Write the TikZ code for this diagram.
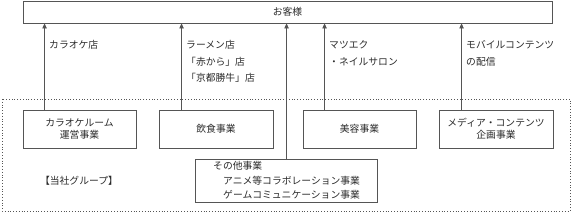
\documentclass[tikz,border=0pt]{standalone}
\usepackage{fontspec}
\newfontfamily\jp{Noto Sans CJK JP}
\usetikzlibrary{arrows.meta}
\definecolor{ln}{HTML}{555555}
\definecolor{tx}{HTML}{2a2a2a}
\tikzset{
  every node/.style={font=\jp\fontsize{9.8}{12}\selectfont, text=tx, inner sep=0pt},
  bx/.style={draw=ln, line width=0.9pt, minimum height=38pt, align=center},
  lbl/.style={anchor=west},
  arr/.style={draw=ln, line width=0.8pt, -{Triangle[length=5pt,width=4.5pt]}},
}
\begin{document}
\begin{tikzpicture}[x=1pt,y=-1pt]
\useasboundingbox (0,0) rectangle (575,213);
\draw[ln, dotted, line width=0.8pt] (2,99) rectangle (570,211);
\node[draw=ln, line width=0.9pt, minimum width=529pt, minimum height=22pt] (top) at (287.5,12) {お客様};
\node[bx, minimum width=113pt] (b1) at (79.5,129) {カラオケルーム\\運営事業};
\node[bx, minimum width=114pt] (b2) at (216,129) {飲食事業};
\node[bx, minimum width=113pt] (b3) at (359.5,129) {美容事業};
\node[bx, minimum width=114pt] (b4) at (496,129) {メディア・コンテンツ\\企画事業};
\node[draw=ln, line width=0.9pt, minimum width=182pt, minimum height=43pt] (b5) at (286,180.5) {};
\node[lbl] (t51) at (213,166) {その他事業};
\node[lbl] (t52) at (223,181) {アニメ等コラボレーション事業};
\node[lbl] (t53) at (223,195) {ゲームコミュニケーション事業};
\node (grp) at (79,181) {【当社グループ】};
\coordinate (c1) at ([xshift=22pt]b1.north west);
\coordinate (c2) at ([xshift=23pt]b2.north west);
\coordinate (c3) at ([xshift=22pt]b3.north west);
\coordinate (c4) at ([xshift=23pt]b4.north west);
\coordinate (c5) at ([xshift=92pt]b5.north west);
\draw[arr] (c1) -- (c1 |- top.south);
\draw[arr] (c2) -- (c2 |- top.south);
\draw[arr] (c3) -- (c3 |- top.south);
\draw[arr] (c4) -- (c4 |- top.south);
\draw[arr] (c5) -- (c5 |- top.south);
\node[lbl] (l1) at (49,45) {カラオケ店};
\node[lbl] (l2a) at (186,45) {ラーメン店};
\node[lbl] (l2b) at (186,62) {「赤から」店};
\node[lbl] (l2c) at (186,78) {「京都勝牛」店};
\node[lbl] (l3a) at (329,45) {マツエク};
\node[lbl] (l3b) at (329,62) {・ネイルサロン};
\node[lbl] (l4a) at (466,45) {モバイルコンテンツ};
\node[lbl] (l4b) at (466,62) {の配信};
\end{tikzpicture}
\end{document}
